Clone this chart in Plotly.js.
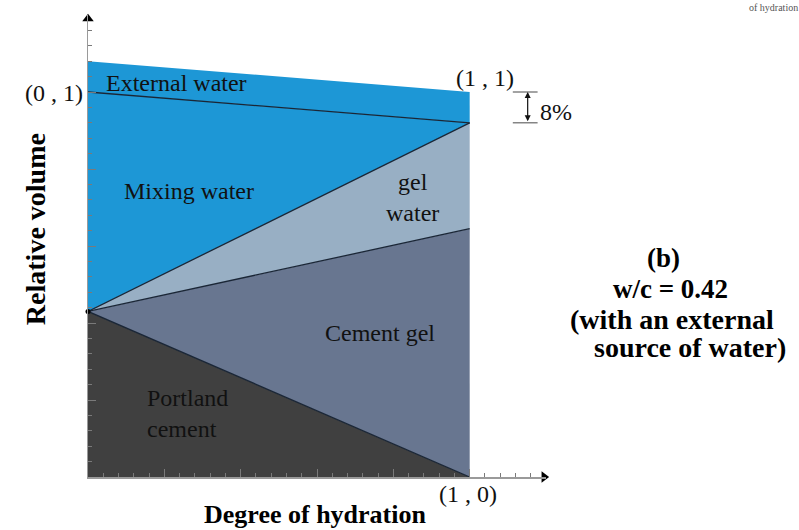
<!DOCTYPE html>
<html>
<head>
<meta charset="utf-8">
<script src="https://cdn.plot.ly/plotly-3.0.1.min.js"></script>
<style>
  html, body { margin: 0; padding: 0; background: #ffffff; }
  #chart { width: 799px; height: 530px; }
</style>
</head>
<body>
<div id="chart"></div>
<script>
// Powers model of a hydrating paste, w/c = 0.42, with external water supply.
// Each phase is bounded below and above by a straight line from
// degree of hydration 0 to degree of hydration 1.
const degree = [0, 1];
const baseLine = [0, 0];
const portlandCementTop = [0.43, 0];
const cementGelTop = [0.43, 0.645];
const gelWaterTop = [0.43, 0.92];
const mixingWaterTop = [1.00, 0.92];
const externalWaterTop = [1.08, 1.00];

const phaseNames = ['Portland cement', 'Cement gel', 'gel water', 'Mixing water', 'External water'];
const phaseColors = ['#404040', '#687690', '#98afc4', '#1d97d6', '#1d97d6'];
const phaseBounds = [
  [baseLine, portlandCementTop],
  [portlandCementTop, cementGelTop],
  [cementGelTop, gelWaterTop],
  [gelWaterTop, mixingWaterTop],
  [mixingWaterTop, externalWaterTop]
];

const serif = 'Liberation Serif';
const edgeColor = '#1a2636';

const traces = [];

// filled phase areas
phaseBounds.forEach(function (b, i) {
  const lower = b[0], upper = b[1];
  traces.push({
    type: 'scatter',
    mode: 'lines',
    name: phaseNames[i],
    x: degree.concat(degree.slice().reverse()),
    y: lower.concat(upper.slice().reverse()),
    fill: 'toself',
    fillcolor: phaseColors[i],
    line: { width: 0, color: phaseColors[i] },
    hoverinfo: 'skip',
    showlegend: false
  });
});

// dividing lines between the phases
[portlandCementTop, cementGelTop, gelWaterTop, mixingWaterTop].forEach(function (top) {
  traces.push({
    type: 'scatter',
    mode: 'lines',
    x: degree,
    y: top,
    line: { width: 1.3, color: edgeColor },
    hoverinfo: 'skip',
    showlegend: false
  });
});

// starting point of the cement
traces.push({
  type: 'scatter',
  mode: 'markers',
  x: [degree[0]],
  y: [portlandCementTop[0]],
  marker: { size: 5, color: '#000000' },
  cliponaxis: false,
  hoverinfo: 'skip',
  showlegend: false
});

const xMax = 1.2;
const yMax = 1.2;

// axis arrowheads
traces.push({
  type: 'scatter',
  mode: 'markers',
  x: [0, xMax - 0.005],
  y: [yMax - 0.01, 0],
  marker: { symbol: ['triangle-up', 'triangle-right'], size: 10, color: '#000000' },
  cliponaxis: false,
  hoverinfo: 'skip',
  showlegend: false
});

// shrinkage bracket at full hydration
const shrinkTop = externalWaterTop[1];
const shrinkBottom = mixingWaterTop[1];
const shrinkPct = Math.round((shrinkTop - shrinkBottom) * 100) + '%';
const bracketX = 1.152;

const shapes = [
  { type: 'line', xref: 'x', yref: 'y', x0: 1.113, x1: 1.178, y0: shrinkTop, y1: shrinkTop,
    line: { color: '#666666', width: 1.2 } },
  { type: 'line', xref: 'x', yref: 'y', x0: 1.113, x1: 1.178, y0: shrinkBottom, y1: shrinkBottom,
    line: { color: '#666666', width: 1.2 } }
];

const plainFont = { family: serif, size: 24, color: '#111111' };
function boldFont(size) {
  return { family: serif, size: size, color: '#000000', weight: 'bold' };
}

function label(text, x, y, extra) {
  return Object.assign({
    text: text, x: x, y: y, xref: 'x', yref: 'y',
    showarrow: false, font: plainFont,
    xanchor: 'center', yanchor: 'middle'
  }, extra || {});
}

// text placed around the plot area (paper coordinates)
function outer(text, x, y, font, extra) {
  return Object.assign({
    text: text, x: x, y: y, xref: 'paper', yref: 'paper',
    showarrow: false, font: font, xanchor: 'center', yanchor: 'middle'
  }, extra || {});
}

const annotations = [
  label('External water', 0.042, 1.023, { xanchor: 'left' }),
  label('(1 , 1)', 1.04, 1.037),
  label('Mixing water', 0.264, 0.742),
  label('gel<br>water', 0.85, 0.727),
  label('Cement gel', 0.765, 0.374),
  label('Portland<br>cement', 0.149, 0.165, { xanchor: 'left', align: 'left' }),
  label(shrinkPct, 1.178, 0.948, { xanchor: 'left' }),
  {
    x: bracketX, y: shrinkTop, ax: bracketX, ay: shrinkBottom,
    xref: 'x', yref: 'y', axref: 'x', ayref: 'y',
    showarrow: true, arrowside: 'end+start', arrowhead: 2, arrowsize: 1,
    arrowwidth: 1.2, arrowcolor: '#111111', standoff: 0, startstandoff: 0, text: ''
  },
  outer('(0 , 1)', -0.006, 0.831, plainFont, { xanchor: 'right' }),
  outer('(1 , 0)', 0.829, -0.036, plainFont),
  // axis titles
  outer('Degree of hydration', 0.495, -0.082, boldFont(26)),
  outer('Relative volume', -0.113, 0.537, boldFont(28), { textangle: -90 }),
  // case description
  outer('(b)', 1.2565, 0.474, boldFont(27)),
  outer('w/c = 0.42', 1.2718, 0.407, boldFont(27)),
  outer('(with an external', 1.2762, 0.340, boldFont(28)),
  outer('source of water)', 1.0995, 0.281, boldFont(28), { xanchor: 'left' }),
  outer('of hydration', 1.4398, 1.0325, { family: serif, size: 10, color: '#555555' },
    { xanchor: 'left', yanchor: 'top' })
];

const axisCommon = {
  showgrid: false,
  zeroline: false,
  showline: true,
  linecolor: '#9a9a9a',
  linewidth: 1.5,
  ticks: 'inside',
  tick0: 0,
  dtick: 0.2,
  ticklen: 8,
  tickwidth: 1,
  tickcolor: '#7a7a7a',
  minor: { ticks: 'inside', dtick: 0.04, ticklen: 4, tickwidth: 1, tickcolor: '#7a7a7a' },
  showticklabels: false,
  fixedrange: true,
  layer: 'above traces'
};

const layout = {
  width: 799,
  height: 530,
  margin: { l: 88, r: 252.6, t: 15, b: 53, pad: 0 },
  paper_bgcolor: '#ffffff',
  plot_bgcolor: '#ffffff',
  showlegend: false,
  xaxis: Object.assign({}, axisCommon, { range: [0, xMax] }),
  yaxis: Object.assign({}, axisCommon, { range: [0, yMax] }),
  shapes: shapes,
  annotations: annotations
};

Plotly.newPlot('chart', traces, layout, { staticPlot: true, displayModeBar: false });
</script>
</body>
</html>
